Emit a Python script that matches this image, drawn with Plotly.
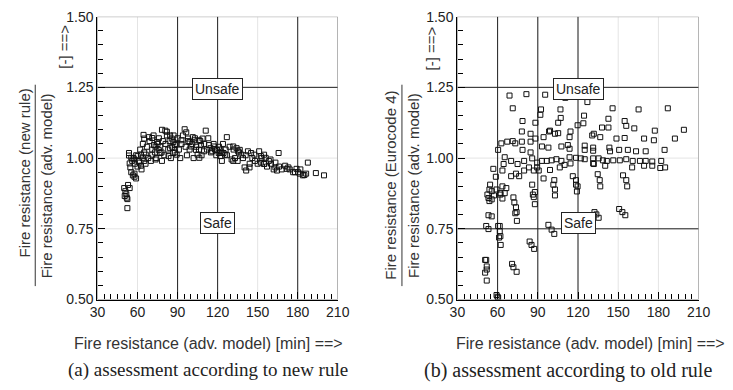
import plotly.graph_objects as go

# ---------------- data ----------------
new_x = [50.0, 50.9, 51.6, 50.4, 52.4, 51.9, 52.9, 54.1, 52.4, 53.6, 53.6, 54.1, 55.3, 54.6, 55.3, 56.5,
         57.7, 58.9, 57.7, 57.7, 60.1, 62.6, 61.4, 62.6, 63.8, 65.0, 66.2, 64.5, 65.0, 68.6, 71.0, 72.3,
         73.5, 74.7, 75.9, 77.1, 71.0, 73.5, 78.3, 78.3, 80.8, 82.0, 84.4, 85.6, 86.8, 88.0, 84.4, 86.8,
         83.2, 89.3, 92.9, 95.3, 96.5, 97.8, 99.0, 100.2, 101.4, 102.6, 103.8, 106.3, 107.5, 108.7, 105.0,
         106.3, 109.9, 111.1, 113.5, 114.7, 116.0, 117.2, 119.6, 120.8, 122.0, 123.2, 124.4, 125.7, 126.9,
         131.7, 134.2, 135.4, 136.6, 137.8, 140.2, 141.4, 143.9, 130.5, 131.7, 142.7, 145.1, 147.5, 151.1,
         152.4, 154.8, 156.0, 158.4, 159.6, 163.3, 165.7, 152.4, 154.8, 163.3, 164.5, 170.6, 171.8, 173.0,
         176.6, 179.1, 180.3, 181.5, 183.9, 186.3, 187.6, 193.6, 199.7,
         56, 57, 58, 59, 60, 61, 62, 63, 64, 65, 66, 67, 68, 69, 70, 71, 72, 73, 74, 75, 76, 77, 78, 79,
         80, 81, 82, 83, 84, 85, 86, 87, 88, 89, 90, 91, 92, 93, 94, 96, 97, 98, 99, 101, 102, 103, 104,
         106, 107, 108, 110, 112, 113, 115, 117, 118, 119, 121, 122, 123, 124, 126, 127, 129, 132, 133,
         135, 136, 139, 141, 144, 146, 148, 150, 153, 155, 157, 160, 162, 166, 168, 174, 178, 182, 185]
new_y = [0.894, 0.883, 0.872, 0.866, 0.855, 0.860, 0.905, 0.894, 0.823, 1.018, 1.009, 0.981, 1.001, 0.967,
         0.950, 0.939, 0.934, 0.928, 0.945, 0.995, 1.007, 1.012, 0.984, 0.973, 1.001, 0.990, 1.012, 1.082,
         1.069, 1.074, 1.071, 1.046, 1.041, 1.057, 1.029, 1.018, 1.012, 0.995, 0.990, 1.100, 1.097, 1.093,
         1.080, 1.069, 1.057, 1.046, 1.035, 1.018, 1.007, 1.012, 1.063, 1.102, 1.091, 1.069, 1.057, 1.041,
         1.074, 1.063, 1.029, 1.063, 1.046, 1.069, 1.012, 1.001, 1.024, 1.097, 1.046, 1.035, 1.024, 1.041,
         1.029, 1.018, 1.007, 0.990, 1.018, 1.012, 1.074, 1.041, 1.035, 1.024, 1.029, 1.012, 0.967, 0.956,
         0.967, 0.995, 0.990, 1.024, 1.018, 1.012, 1.024, 1.007, 1.012, 1.001, 0.990, 0.995, 0.984, 1.018,
         0.984, 0.979, 0.967, 0.956, 0.973, 0.962, 0.967, 0.950, 0.962, 0.950, 0.945, 0.939, 0.945, 0.984,
         0.947, 0.939,
         0.99, 1.00, 0.98, 1.01, 0.97, 0.99, 1.03, 0.96, 1.05, 1.02, 0.98, 1.04, 1.00, 1.06, 0.99, 1.03,
         1.08, 1.02, 1.00, 1.05, 1.07, 1.04, 1.02, 1.06, 1.01, 1.05, 1.08, 1.03, 1.06, 1.00, 1.04, 1.08,
         1.02, 1.05, 1.07, 1.03, 1.00, 1.05, 1.08, 1.04, 1.01, 1.06, 1.03, 1.05, 1.00, 1.07, 1.04, 1.03,
         1.06, 1.01, 1.05, 1.03, 1.07, 1.02, 1.05, 1.03, 1.01, 1.04, 1.03, 1.02, 1.05, 1.03, 1.01, 1.04,
         1.03, 1.00, 0.99, 1.02, 1.00, 1.01, 0.98, 1.00, 0.99, 0.98, 1.00, 0.98, 0.97, 0.98, 0.96, 0.97,
         0.96, 0.96, 0.95, 0.96, 0.94]

old_x = [68.9, 81.5, 95.5, 110.5, 127.0, 71.3, 92.4, 106.9, 145.8, 165.2, 187.0,
         78.6, 91.9, 107.1, 105.2, 124.5, 124.0, 119.7, 142.7, 154.8, 78.1, 84.6, 88.2, 98.4, 105.2, 114.4,
         131.8, 137.9, 142.7, 156.0, 162.0, 177.3, 199.0,
         60.4, 62.8, 67.2, 71.3, 73.2, 78.1, 84.6, 88.2, 94.3, 99.1, 102.8, 113.7, 130.6, 136.6, 148.7,
         154.8, 169.3, 176.6, 192.3,
         78.6, 84.6, 93.1, 97.9, 107.6, 112.4, 113.7, 125.0, 125.0, 131.3, 131.3, 143.4, 143.9, 150.7,
         157.2, 163.3, 170.5, 184.6,
         65.3, 70.1, 74.9, 79.8, 85.8, 89.5, 93.1, 96.7, 100.3, 103.9, 107.6, 110.0, 113.7, 114.4, 118.5,
         122.1, 125.0, 131.3, 131.3, 135.4, 138.6, 141.5, 146.3, 151.2, 156.0, 160.8, 166.2, 170.5, 175.4,
         182.1, 185.0, 181.4, 175.4, 169.3, 160.4, 140.3, 131.8,
         56.8, 58.7, 63.6, 64.5, 70.1, 73.7, 76.1, 79.8, 83.4, 87.0, 89.5, 90.7, 94.3, 99.1, 102.3, 106.4,
         116.1, 118.5, 119.7, 134.7, 136.2, 136.6, 153.6, 156.0, 156.7,
         54.4, 53.9, 55.6, 59.2, 62.1, 63.6, 66.5, 71.8, 85.8, 87.8, 101.6, 102.8, 118.5,
         53.2, 53.9, 55.6, 57.3, 52.4, 62.1, 63.6, 65.3, 72.5, 73.7, 73.2, 74.4, 74.2, 87.0, 87.8, 86.3,
         102.8, 119.2,
         53.2, 55.6, 51.5, 53.2, 61.6, 60.4, 61.6, 62.1, 61.1, 62.3, 97.9, 100.3, 102.3, 132.3, 133.7,
         135.4, 150.7, 153.1, 155.3,
         83.9, 85.3, 87.3, 70.8, 71.8, 74.2,
         50.7, 51.5, 51.9, 51.9, 50.7, 51.9,
         59.2, 59.9, 60.4]
old_y = [1.221, 1.226, 1.224, 1.213, 1.198, 1.176, 1.172, 1.172, 1.176, 1.172, 1.176,
         1.131, 1.153, 1.142, 1.125, 1.150, 1.123, 1.116, 1.139, 1.131, 1.094, 1.086, 1.125, 1.094, 1.088,
         1.094, 1.086, 1.108, 1.108, 1.114, 1.105, 1.097, 1.100,
         1.029, 1.052, 1.058, 1.060, 1.052, 1.058, 1.058, 1.069, 1.074, 1.097, 1.086, 1.074, 1.080, 1.074,
         1.069, 1.071, 1.069, 1.063, 1.069,
         1.029, 1.020, 1.041, 1.037, 1.041, 1.046, 1.033, 1.044, 1.029, 1.037, 1.026, 1.037, 1.024, 1.029,
         1.029, 1.024, 1.024, 1.029,
         1.003, 0.990, 0.979, 0.990, 0.999, 0.984, 0.990, 0.990, 0.992, 0.996, 0.990, 0.976, 1.003, 0.981,
         1.001, 0.999, 0.996, 0.999, 0.981, 0.999, 0.992, 0.990, 0.992, 0.992, 0.996, 0.990, 0.990, 0.990,
         0.988, 0.990, 0.967, 0.965, 0.973, 0.973, 0.967, 0.973, 0.979,
         0.962, 0.934, 0.956, 0.979, 0.936, 0.945, 0.936, 0.956, 0.967, 0.956, 0.967, 0.956, 0.928, 0.958,
         0.922, 0.967, 0.936, 0.922, 0.900, 0.943, 0.922, 0.900, 0.939, 0.922, 0.900,
         0.906, 0.889, 0.883, 0.889, 0.877, 0.900, 0.894, 0.861, 0.906, 0.880, 0.906, 0.889, 0.906,
         0.859, 0.848, 0.854, 0.868, 0.871, 0.871, 0.857, 0.876, 0.843, 0.826, 0.805, 0.778, 0.809, 0.862,
         0.837, 0.871, 0.868, 0.882,
         0.798, 0.794, 0.760, 0.749, 0.760, 0.760, 0.741, 0.724, 0.719, 0.693, 0.764, 0.747, 0.732, 0.809,
         0.801, 0.789, 0.820, 0.809, 0.798,
         0.705, 0.693, 0.679, 0.626, 0.614, 0.598,
         0.640, 0.640, 0.617, 0.606, 0.595, 0.567,
         0.516, 0.510, 0.507]

x_range = [30, 210]
y_range = [0.5, 1.5]
grid_x = [30, 60, 90, 120, 150, 180, 210]
grid_y = [0.50, 0.75, 1.00, 1.25, 1.50]
left_vlines = [90, 120, 180]
left_hlines = [1.25]
right_vlines = [60, 90, 120]
right_hlines = [1.25, 0.75]

W, H = 733, 390
def px(x): return x / W
def py(y): return 1 - y / H

FONT = "Liberation Sans, Arial, sans-serif"
SERIF = "Liberation Serif, Times New Roman, serif"

fig = go.Figure()
marker = dict(symbol="square-open", size=5, color="#111", line=dict(width=1, color="#111"))
fig.add_trace(go.Scatter(x=new_x, y=new_y, mode="markers", marker=marker, xaxis="x", yaxis="y",
                         showlegend=False, hoverinfo="skip"))
fig.add_trace(go.Scatter(x=old_x, y=old_y, mode="markers", marker=marker, xaxis="x2", yaxis="y2",
                         showlegend=False, hoverinfo="skip"))

def xax(dom, anchor):
    return dict(domain=dom, range=x_range, tickmode="linear", tick0=30, dtick=30,
                ticks="inside", ticklen=7, tickwidth=1.3, tickcolor="#000", showline=True, linecolor="#000",
                linewidth=1.3, showgrid=False, zeroline=False, anchor=anchor, layer="above traces",
                tickfont=dict(family=FONT, size=14, color="#222"),
                minor=dict(dtick=5, tick0=30, ticks="inside", ticklen=5, tickwidth=1.3, tickcolor="#000",
                           showgrid=False))

def yax(anchor):
    return dict(domain=[py(304), py(9)], range=y_range, tickmode="linear", tick0=0.5, dtick=0.25,
                tickformat=".2f", ticks="inside", ticklen=7, tickwidth=1.3, tickcolor="#000",
                showline=True, linecolor="#000", linewidth=1.3, showgrid=False, layer="above traces",
                zeroline=False, anchor=anchor, tickfont=dict(family=FONT, size=14, color="#222"),
                minor=dict(dtick=0.05, tick0=0.5, ticks="inside", ticklen=5, tickwidth=1.3, tickcolor="#000",
                           showgrid=False))

fig.update_layout(
    width=W, height=H, margin=dict(l=0, r=0, t=0, b=0),
    paper_bgcolor="white", plot_bgcolor="white",
    xaxis=xax([px(92), px(339)], "y"), yaxis=yax("x"),
    xaxis2=xax([px(462), px(710)], "y2"), yaxis2=yax("x2"),
)

shapes = []
for xr, yr, vls, hls in (("x", "y", left_vlines, left_hlines), ("x2", "y2", right_vlines, right_hlines)):
    for v in grid_x:
        shapes.append(dict(type="line", xref=xr, yref=yr, x0=v, x1=v, y0=y_range[0], y1=y_range[1],
                           line=dict(color="#e4e4e4", width=1), layer="below"))
    for v in grid_y:
        shapes.append(dict(type="line", xref=xr, yref=yr, x0=x_range[0], x1=x_range[1], y0=v, y1=v,
                           line=dict(color="#e4e4e4", width=1), layer="below"))
    shapes.append(dict(type="rect", xref=xr, yref=yr, x0=x_range[0], x1=x_range[1],
                       y0=y_range[0], y1=y_range[1], line=dict(color="#888", width=1), layer="below"))
    for v in vls:
        shapes.append(dict(type="line", xref=xr, yref=yr, x0=v, x1=v, y0=y_range[0], y1=y_range[1],
                           line=dict(color="#222", width=1), layer="below"))
    for v in hls:
        shapes.append(dict(type="line", xref=xr, yref=yr, x0=x_range[0], x1=x_range[1], y0=v, y1=v,
                           line=dict(color="#222", width=1), layer="below"))
# fraction bars of the y titles
shapes.append(dict(type="line", xref="paper", yref="paper", x0=px(28), x1=px(28), y0=py(80), y1=py(290),
                   line=dict(color="#333", width=1)))
shapes.append(dict(type="line", xref="paper", yref="paper", x0=px(405), x1=px(405), y0=py(80), y1=py(290),
                   line=dict(color="#333", width=1)))
fig.update_layout(shapes=shapes)

ann = []
def t(x, y, text, size=15, angle=0, family=FONT, color="#333"):
    ann.append(dict(xref="paper", yref="paper", x=px(x), y=py(y), text=text, showarrow=False,
                    textangle=angle, xanchor="center", yanchor="middle",
                    font=dict(family=family, size=size, color=color)))

t(17, 172, "Fire resistance (new rule)", angle=-90)
t(40, 185, "Fire resistance (adv. model)", angle=-90)
t(58, 40, "[-] ==>", angle=-90)
t(393, 185, "Fire resistance (Eurocode 4)", angle=-90)
t(417, 185, "Fire resistance (adv. model)", angle=-90)
t(435, 42, "[-] ==>", angle=-90)
t(206, 350, "Fire resistance (adv. model) [min] ==>", size=16)
t(599, 350, "Fire resistance (adv. model) [min] ==>", size=16)
t(206, 378, "(a) assessment according to new rule", size=19, family=SERIF, color="#222")
t(576, 378, "(b) assessment according to old rule", size=20, family=SERIF, color="#222")

for xr, yr in (("x", "y"), ("x2", "y2")):
    ann.append(dict(xref=xr, yref=yr, x=120, y=1.245, text="Unsafe", showarrow=False,
                    bgcolor="white", bordercolor="#222", borderwidth=1, borderpad=2,
                    font=dict(family=FONT, size=14, color="#222")))
    ann.append(dict(xref=xr, yref=yr, x=120, y=0.77, text="Safe", showarrow=False,
                    bgcolor="white", bordercolor="#222", borderwidth=1, borderpad=2,
                    font=dict(family=FONT, size=14, color="#222")))
fig.update_layout(annotations=ann)

fig.write_html("out.html")
